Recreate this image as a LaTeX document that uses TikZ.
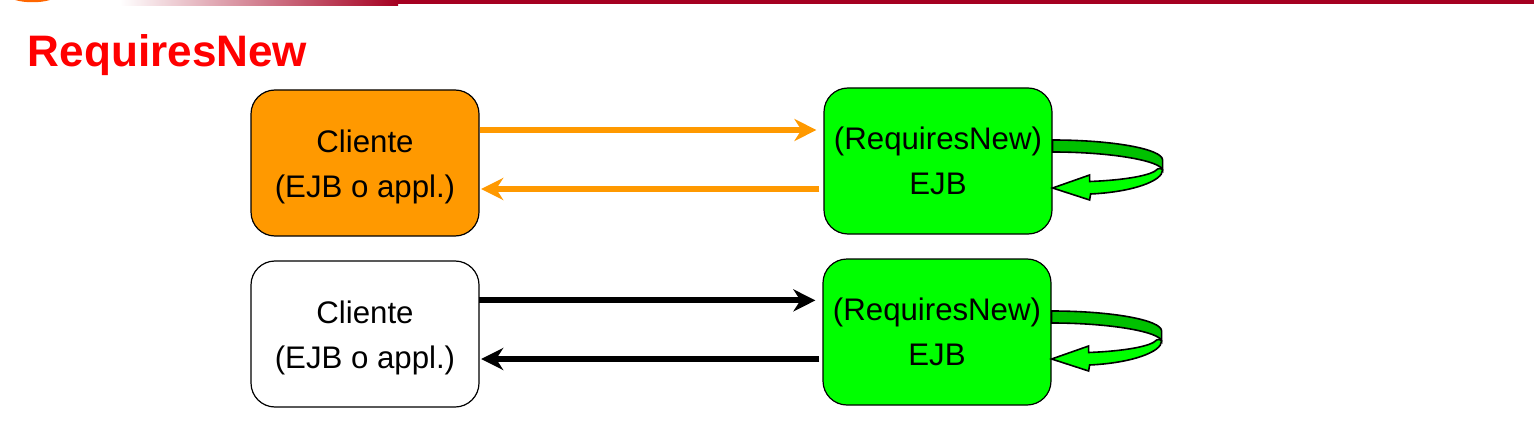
\documentclass[tikz,border=0pt]{standalone}
\usepackage{fontspec}
\setmainfont{Liberation Sans}
\usetikzlibrary{arrows.meta}
\definecolor{barred}{HTML}{A50021}
\definecolor{cliorange}{HTML}{FF9900}
\definecolor{ejbgreen}{HTML}{00FF00}
\definecolor{loopgreen}{HTML}{00C000}
\newcommand{\clitext}{\rule{0pt}{14.8pt}Cliente\\(EJB o appl.)}
\tikzset{
  box/.style={draw=black,line width=.6pt,rounded corners=12pt,minimum width=114pt,minimum height=73pt,
    align=center,font=\fontsize{15.6pt}{22.5pt}\selectfont},
  call/.style={line width=3pt,-{Stealth[length=11pt,width=11pt,inset=3.5pt]}},
  band/.style={draw=black,line width=.8pt,fill=loopgreen},
  loophead/.style={draw=black,line width=.8pt,fill=ejbgreen}
}
\begin{document}
\begin{tikzpicture}[x=.5pt,y=-.5pt]
\useasboundingbox (0,0) rectangle (1534,427);
\fill[barred] (398,0) rectangle (1534,4);
\shade[left color=white,right color=barred] (120,0) rectangle (398,6);
\fill[orange!80!red] (15,0) .. controls (25,3) and (40,3) .. (50,0) -- cycle;
\node[anchor=west,text=red,font=\fontsize{22.05pt}{24pt}\selectfont\bfseries,inner sep=0pt] (title) at (27.5,55) {RequiresNew};
% first row
\node[box,fill=cliorange] (cliA) at (365,163) {\clitext};
\node[box,fill=ejbgreen] (ejbA) at (938,161) {(RequiresNew)\\EJB};
\draw[call,cliorange] ([yshift=16.5pt]cliA.east) -- ([xshift=-3.5pt,yshift=15.5pt]ejbA.west);
\draw[call,cliorange] ([xshift=-2pt,yshift=-14pt]ejbA.west) -- ([xshift=.8pt,yshift=-13pt]cliA.east);
% second row
\node[box,fill=white] (cliB) at (365,334) {\clitext};
\node[box,fill=ejbgreen] (ejbB) at (937,332) {(RequiresNew)\\EJB};
\draw[call,black] ([xshift=-.5pt,yshift=16.8pt]cliB.east) -- ([xshift=-3.5pt,yshift=15.8pt]ejbB.west);
\draw[call,black] ([xshift=-1.5pt,yshift=-13.5pt]ejbB.west) -- ([xshift=.8pt,yshift=-12.5pt]cliB.east);
% self calls
\foreach \n in {ejbA,ejbB}{
\begin{scope}[shift={(\n.east)}]
\draw[band] (0,-21) .. controls (60,-21) and (110,-12) .. (110,-1)
  -- (110,9) .. controls (108,0) and (60,-9) .. (0,-9) -- cycle;
\draw[loophead] (0,27) -- (37,14) -- (37,20.5) .. controls (75,19) and (100,14) .. (105,8)
  .. controls (107,7) and (109,7) .. (110,9)
  .. controls (110,20) and (80,31) .. (38,33) -- (37,39) -- cycle;
\end{scope}}
\end{tikzpicture}
\end{document}
